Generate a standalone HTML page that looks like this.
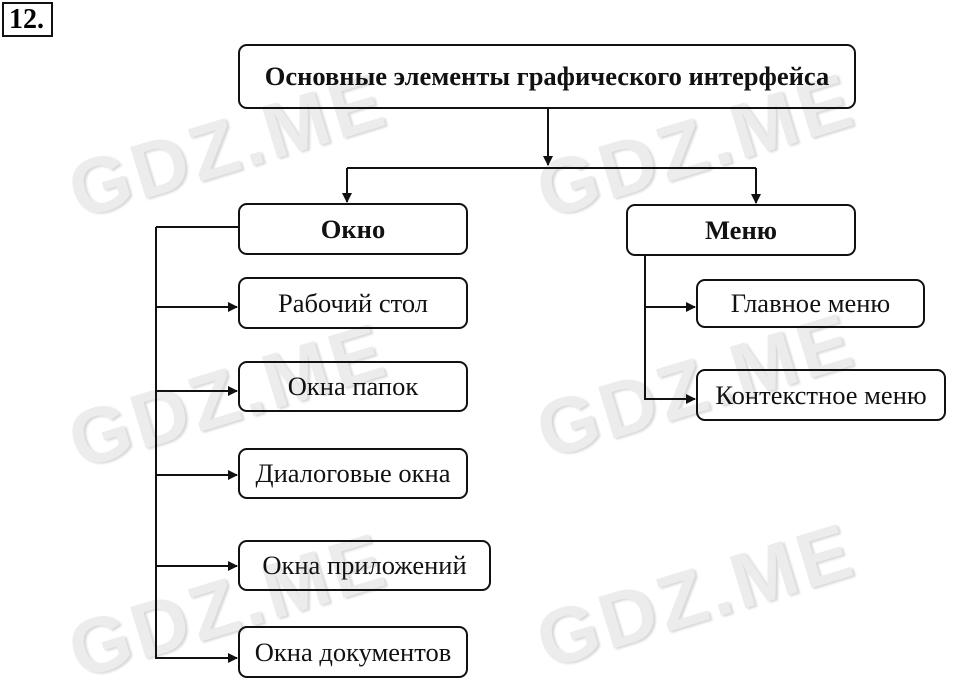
<!DOCTYPE html>
<html><head><meta charset="utf-8"><style>
html,body{margin:0;padding:0;background:#fff;}
body{width:960px;height:679px;position:relative;overflow:hidden;font-family:"Liberation Serif",serif;}
.b{position:absolute;border:2px solid #111;border-radius:9px;box-sizing:border-box;display:flex;align-items:center;justify-content:center;font-size:26.5px;color:#111;background:transparent;white-space:nowrap;}
.wm{position:absolute;font-family:"Liberation Sans",sans-serif;font-weight:bold;font-size:78px;color:#ececec;text-shadow:2px 2px 2px #d8d8d8;transform:rotate(-17deg);transform-origin:left top;letter-spacing:4px;}
</style></head><body>
<div class="wm" style="left:58px;top:150px">GDZ.ME</div>
<div class="wm" style="left:526px;top:150px">GDZ.ME</div>
<div class="wm" style="left:58px;top:400px">GDZ.ME</div>
<div class="wm" style="left:526px;top:390px">GDZ.ME</div>
<div class="wm" style="left:58px;top:610px">GDZ.ME</div>
<div class="wm" style="left:526px;top:600px">GDZ.ME</div>

<div style="position:absolute;left:2px;top:2px;width:42px;height:31px;border:2px solid #111;font-weight:bold;font-size:28px;line-height:31px;padding-left:5px;box-sizing:content-box;">12.</div>

<svg width="960" height="679" style="position:absolute;left:0;top:0" xmlns="http://www.w3.org/2000/svg">
<defs><marker id="a" markerWidth="10" markerHeight="10" refX="9" refY="5" orient="auto" markerUnits="userSpaceOnUse"><path d="M0,0 L10,5 L0,10 z" fill="#111"/></marker></defs>
<g stroke="#111" stroke-width="2" fill="none">
<line x1="548" y1="108" x2="548" y2="165" marker-end="url(#a)"/>
<line x1="347" y1="168" x2="756" y2="168"/>
<line x1="347" y1="168" x2="347" y2="202" marker-end="url(#a)"/>
<line x1="756" y1="168" x2="756" y2="203" marker-end="url(#a)"/>
<line x1="156" y1="227" x2="238" y2="227"/>
<line x1="156" y1="227" x2="156" y2="659"/>
<line x1="156" y1="307" x2="237" y2="307" marker-end="url(#a)"/>
<line x1="156" y1="391" x2="237" y2="391" marker-end="url(#a)"/>
<line x1="156" y1="475" x2="237" y2="475" marker-end="url(#a)"/>
<line x1="156" y1="566" x2="237" y2="566" marker-end="url(#a)"/>
<line x1="156" y1="658" x2="237" y2="658" marker-end="url(#a)"/>
<line x1="645" y1="255" x2="645" y2="400"/>
<line x1="645" y1="307" x2="695" y2="307" marker-end="url(#a)"/>
<line x1="645" y1="399" x2="695" y2="399" marker-end="url(#a)"/>
</g></svg>

<div class="b" style="left:238px;top:44px;width:618px;height:65px;font-weight:bold;font-size:26.5px;">Основные элементы графического интерфейса</div>
<div class="b" style="left:238px;top:203px;width:230px;height:52px;font-weight:bold;">Окно</div>
<div class="b" style="left:626px;top:204px;width:230px;height:52px;font-weight:bold;">Меню</div>
<div class="b" style="left:238px;top:277px;width:230px;height:52px;">Рабочий стол</div>
<div class="b" style="left:238px;top:361px;width:230px;height:51px;">Окна папок</div>
<div class="b" style="left:238px;top:448px;width:230px;height:51px;">Диалоговые окна</div>
<div class="b" style="left:238px;top:540px;width:253px;height:51px;">Окна приложений</div>
<div class="b" style="left:238px;top:626px;width:230px;height:52px;">Окна документов</div>
<div class="b" style="left:696px;top:279px;width:229px;height:49px;">Главное меню</div>
<div class="b" style="left:696px;top:369px;width:250px;height:52px;">Контекстное меню</div>
</body></html>
